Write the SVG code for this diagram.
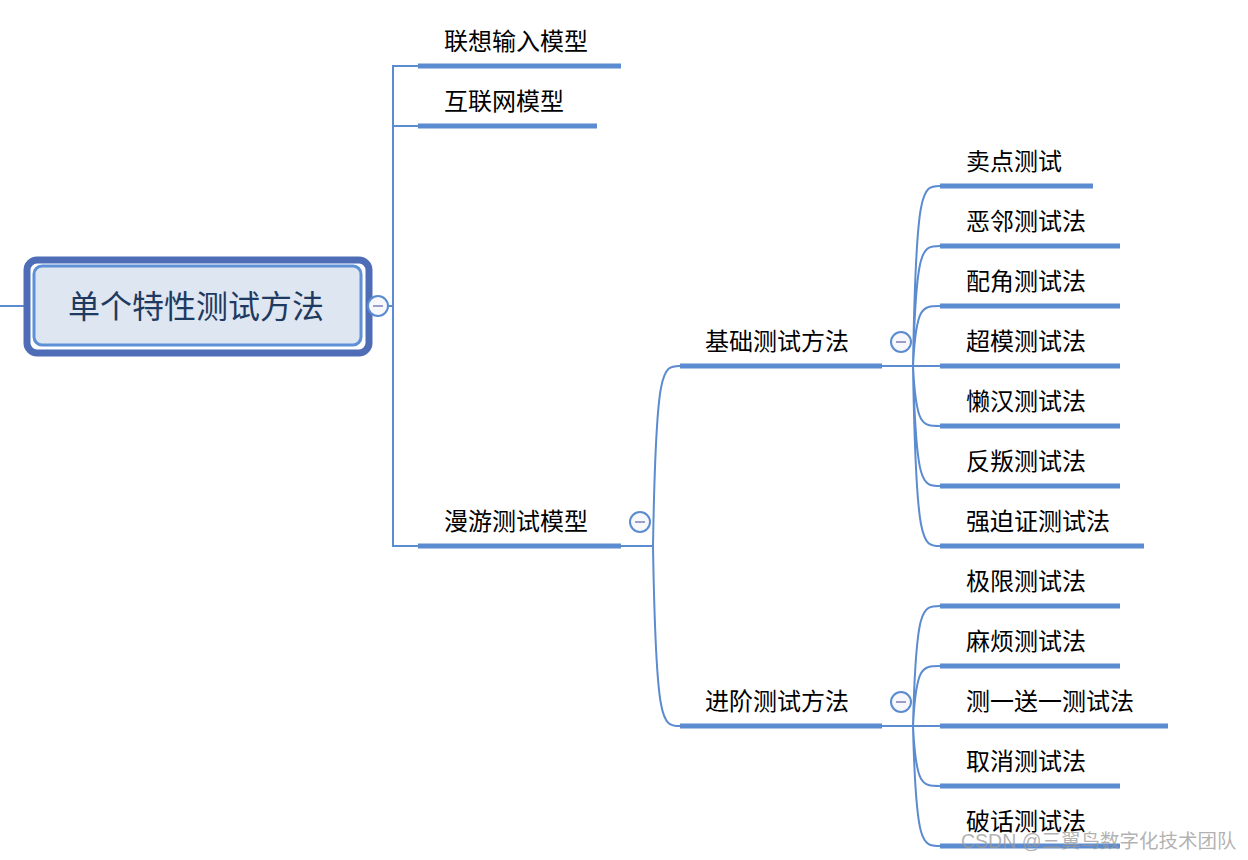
<svg xmlns="http://www.w3.org/2000/svg" width="1248" height="860" viewBox="0 0 1248 860">
<style>
.t{font-family:"Noto Sans CJK SC","Liberation Sans",sans-serif;font-size:24px;fill:#000}
.c{fill:none;stroke:#5b8bd0;stroke-width:2}
.u{stroke:#5b8bd0;stroke-width:5}
.col circle{fill:#f7f8fc;stroke:#5b8bd0;stroke-width:2}
.col line{stroke:#9a9ec8;stroke-width:2}
</style>
<rect width="1248" height="860" fill="#fff"/>
<g id="connectors">
<line class="c" x1="0" y1="306" x2="33" y2="306"/>
<line class="c" x1="362" y1="306" x2="393" y2="306"/>
<path class="c" d="M418,66 H393 V546 H418 M393,126 H418"/>
<path class="c" d="M621,546 H653 M653,546 C656,366 662,366 680,366 M653,546 C656,726 662,726 680,726"/>
<path class="c" d="M882,366 H940 M913,366 C916,186 922,186 940,186 M913,366 C916,246 922,246 940,246 M913,366 C916,306 922,306 940,306 M913,366 C916,426 922,426 940,426 M913,366 C916,486 922,486 940,486 M913,366 C916,546 922,546 940,546"/>
<path class="c" d="M882,726 H940 M913,726 C916,606 922,606 940,606 M913,726 C916,666 922,666 940,666 M913,726 C916,786 922,786 940,786 M913,726 C916,846 922,846 940,846"/>
</g>
<g id="root">
<rect x="27" y="260" width="342" height="93" rx="10" fill="#fff" stroke="#4e6db6" stroke-width="7"/>
<rect x="34" y="266" width="327" height="79" rx="8" fill="#dee6f1" stroke="#5d90d6" stroke-width="3"/>
<text x="196" y="318" text-anchor="middle" font-family="Noto Sans CJK SC,Liberation Sans,sans-serif" font-size="32" fill="#1f3a60">单个特性测试方法</text>
</g>
<g id="col-root" class="col"><circle cx="378" cy="306" r="10"/><line x1="373" y1="306" x2="383" y2="306"/></g>
<g id="n1"><line class="u" x1="418" y1="66" x2="621" y2="66"/><text class="t" x="444" y="50">联想输入模型</text></g>
<g id="n2"><line class="u" x1="418" y1="126" x2="597" y2="126"/><text class="t" x="444" y="110">互联网模型</text></g>
<g id="n3"><line class="u" x1="418" y1="546" x2="621" y2="546"/><text class="t" x="444" y="530">漫游测试模型</text></g>
<g id="col-n3" class="col"><circle cx="640" cy="522" r="10"/><line x1="635" y1="522" x2="645" y2="522"/></g>
<g id="n31"><line class="u" x1="680" y1="366" x2="882" y2="366"/><text class="t" x="705" y="350">基础测试方法</text></g>
<g id="col-n31" class="col"><circle cx="901" cy="342" r="10"/><line x1="896" y1="342" x2="906" y2="342"/></g>
<g id="n32"><line class="u" x1="680" y1="726" x2="882" y2="726"/><text class="t" x="705" y="710">进阶测试方法</text></g>
<g id="col-n32" class="col"><circle cx="901" cy="702" r="10"/><line x1="896" y1="702" x2="906" y2="702"/></g>
<g id="a1"><line class="u" x1="940" y1="186" x2="1093" y2="186"/><text class="t" x="966" y="170">卖点测试</text></g>
<g id="a2"><line class="u" x1="940" y1="246" x2="1120" y2="246"/><text class="t" x="966" y="230">恶邻测试法</text></g>
<g id="a3"><line class="u" x1="940" y1="306" x2="1120" y2="306"/><text class="t" x="966" y="290">配角测试法</text></g>
<g id="a4"><line class="u" x1="940" y1="366" x2="1120" y2="366"/><text class="t" x="966" y="350">超模测试法</text></g>
<g id="a5"><line class="u" x1="940" y1="426" x2="1120" y2="426"/><text class="t" x="966" y="410">懒汉测试法</text></g>
<g id="a6"><line class="u" x1="940" y1="486" x2="1120" y2="486"/><text class="t" x="966" y="470">反叛测试法</text></g>
<g id="a7"><line class="u" x1="940" y1="546" x2="1144" y2="546"/><text class="t" x="966" y="530">强迫证测试法</text></g>
<g id="b1"><line class="u" x1="940" y1="606" x2="1120" y2="606"/><text class="t" x="966" y="590">极限测试法</text></g>
<g id="b2"><line class="u" x1="940" y1="666" x2="1120" y2="666"/><text class="t" x="966" y="650">麻烦测试法</text></g>
<g id="b3"><line class="u" x1="940" y1="726" x2="1168" y2="726"/><text class="t" x="966" y="710">测一送一测试法</text></g>
<g id="b4"><line class="u" x1="940" y1="786" x2="1120" y2="786"/><text class="t" x="966" y="770">取消测试法</text></g>
<g id="b5"><line class="u" x1="940" y1="846" x2="1120" y2="846"/><text class="t" x="966" y="830">破话测试法</text></g>
<text x="961" y="848" font-family="Liberation Sans,Noto Sans CJK SC,sans-serif" font-size="19.5" fill="#999" fill-opacity="0.75">CSDN @三翼鸟数字化技术团队</text>
</svg>
